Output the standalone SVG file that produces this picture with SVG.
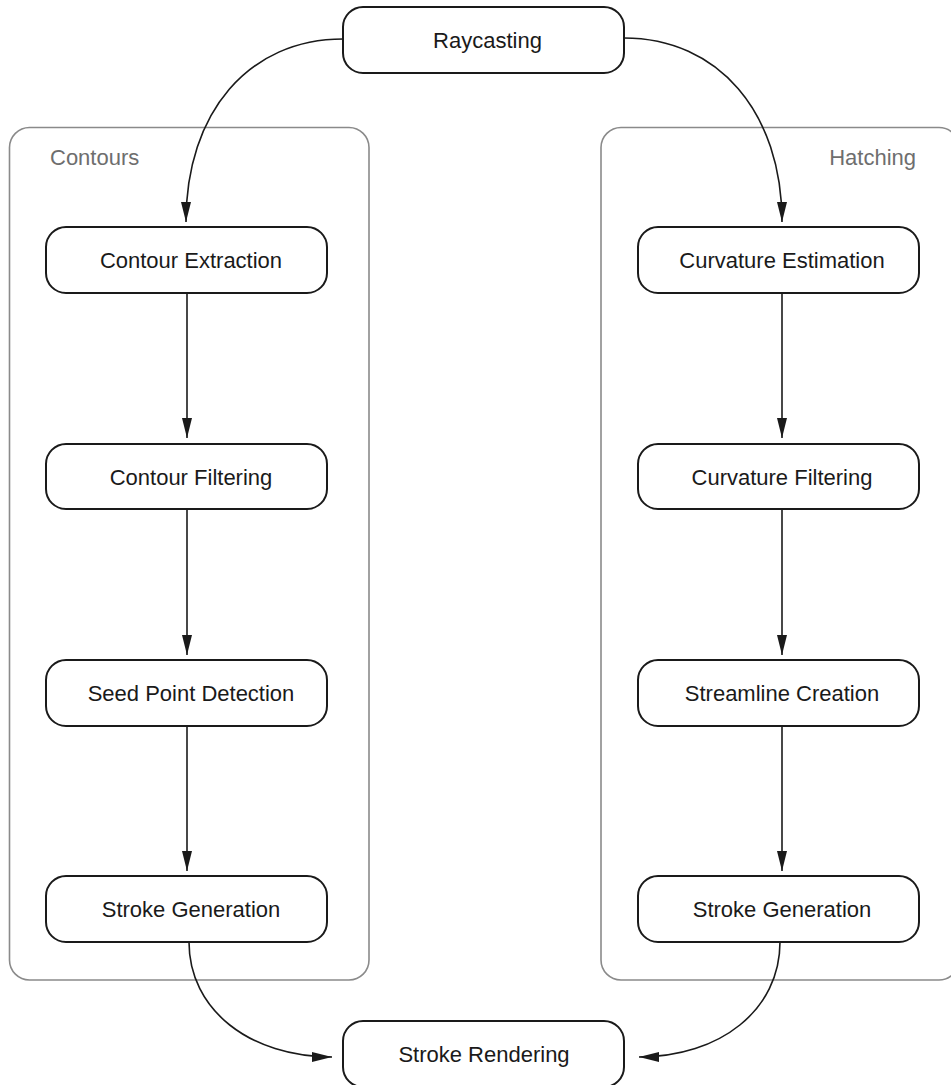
<svg xmlns="http://www.w3.org/2000/svg" width="951" height="1085" viewBox="0 0 951 1085">
  <style>
    .grp { fill: none; stroke: #8a8a8a; stroke-width: 1.6; }
    .grplabel { font-family: "Liberation Sans", Arial, sans-serif; font-size: 22px; fill: #6e6e6e; }
    .node rect { fill: #ffffff; stroke: #1a1a1a; stroke-width: 2; }
    .node text { font-family: "Liberation Sans", Arial, sans-serif; font-size: 22px; fill: #1a1a1a; text-anchor: middle; }
    .edge { fill: none; stroke: #1a1a1a; stroke-width: 1.6; marker-end: url(#arrow); }
  </style>
  <defs>
    <marker id="arrow" viewBox="0 0 20 10" refX="20" refY="5" markerWidth="20" markerHeight="10" markerUnits="userSpaceOnUse" orient="auto">
      <path d="M0,0 L20,5 L0,10 Z" fill="#1a1a1a"/>
    </marker>
  </defs>
  <rect width="951" height="1085" fill="#ffffff"/>

  <g id="group-contours">
    <rect class="grp" x="9.5" y="127.5" width="359.5" height="852.5" rx="20"/>
    <text class="grplabel" x="50" y="165">Contours</text>
  </g>
  <g id="group-hatching">
    <rect class="grp" x="601" y="127.5" width="358" height="852.5" rx="20"/>
    <text class="grplabel" x="916" y="165" text-anchor="end">Hatching</text>
  </g>

  <g id="connectors">
    <path class="edge" d="M343,39 C249,39 186,112 186,222"/>
    <path class="edge" d="M624,38 C718,38 782,112 782,222"/>
    <path class="edge" d="M187,293 L187,438"/>
    <path class="edge" d="M187,509 L187,655"/>
    <path class="edge" d="M187,726 L187,871"/>
    <path class="edge" d="M782,293 L782,438"/>
    <path class="edge" d="M782,509 L782,655"/>
    <path class="edge" d="M782,726 L782,871"/>
    <path class="edge" d="M189,942 C189,1010 250,1057 332,1057"/>
    <path class="edge" d="M780,942 C780,1010 720,1057 639,1057"/>
  </g>

  <g id="node-raycasting" class="node">
    <rect x="343" y="7" width="281" height="66" rx="20"/>
    <text x="487.5" y="48">Raycasting</text>
  </g>
  <g id="node-contour-extraction" class="node">
    <rect x="46" y="227" width="281" height="66" rx="20"/>
    <text x="191" y="268">Contour Extraction</text>
  </g>
  <g id="node-contour-filtering" class="node">
    <rect x="46" y="444" width="281" height="65" rx="20"/>
    <text x="191" y="485">Contour Filtering</text>
  </g>
  <g id="node-seed-point-detection" class="node">
    <rect x="46" y="660" width="281" height="66" rx="20"/>
    <text x="191" y="701">Seed Point Detection</text>
  </g>
  <g id="node-stroke-generation-left" class="node">
    <rect x="46" y="876" width="281" height="66" rx="20"/>
    <text x="191" y="917">Stroke Generation</text>
  </g>
  <g id="node-curvature-estimation" class="node">
    <rect x="638" y="227" width="281" height="66" rx="20"/>
    <text x="782" y="268">Curvature Estimation</text>
  </g>
  <g id="node-curvature-filtering" class="node">
    <rect x="638" y="444" width="281" height="65" rx="20"/>
    <text x="782" y="485">Curvature Filtering</text>
  </g>
  <g id="node-streamline-creation" class="node">
    <rect x="638" y="660" width="281" height="66" rx="20"/>
    <text x="782" y="701">Streamline Creation</text>
  </g>
  <g id="node-stroke-generation-right" class="node">
    <rect x="638" y="876" width="281" height="66" rx="20"/>
    <text x="782" y="917">Stroke Generation</text>
  </g>
  <g id="node-stroke-rendering" class="node">
    <rect x="343" y="1021" width="281" height="66" rx="20"/>
    <text x="484" y="1062">Stroke Rendering</text>
  </g>
</svg>
